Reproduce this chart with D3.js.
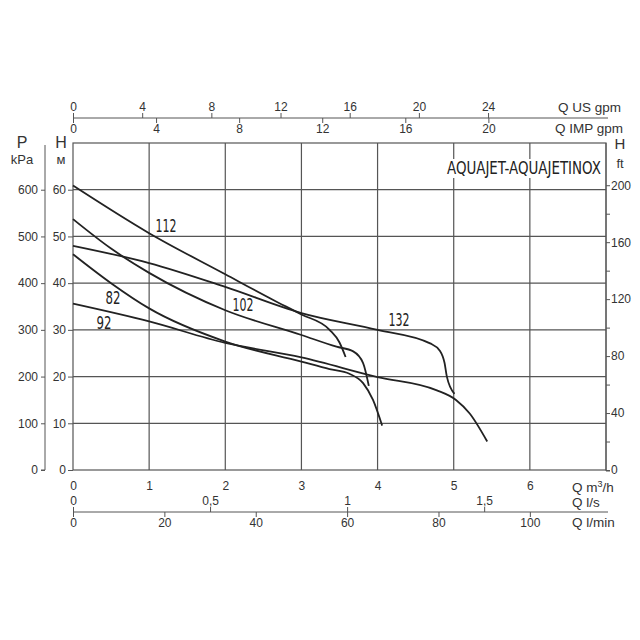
<!DOCTYPE html>
<html>
<head>
<meta charset="utf-8">
<script src="https://cdn.jsdelivr.net/npm/d3@7"></script>
<style>
  body { margin: 0; background: #fff; }
  svg text { font-family: "Liberation Sans", Arial, sans-serif; fill: #333; }
  .axis path, .axis line { stroke: #555; }
  .curvelab { font-family: "DejaVu Sans Condensed", "Liberation Sans Narrow", sans-serif !important; fill: #222 !important; }
</style>
</head>
<body>
<div id="chart"></div>
<script>
///////////////////////////////// Data /////////////////////////////////
// pump curves: [Q m3/h, H m]
var curve82  = [[0,46.2],[0.5,40.0],[1,34.6],[2,27.5],[3,23.2],[3.37,21.6],[3.63,20.6],[3.81,18.6],[3.94,15.0],[4.06,9.5]]
var curve92  = [[0,35.6],[1,31.8],[2,27.2],[3,24.1],[4,19.9],[4.77,17.1],[5.03,15.0],[5.21,12.1],[5.44,6.1]]
var curve102 = [[0,53.7],[0.5,47.4],[1,42.2],[2,34.2],[3,28.9],[3.46,26.4],[3.68,25.4],[3.81,22.9],[3.885,18.0]]
var curve112 = [[0,60.9],[1,50.7],[2,41.9],[2.63,36.4],[3,33.3],[3.37,30.0],[3.5,27.3],[3.58,24.2]]
var curve132 = [[0,48.0],[1,44.3],[2,39.2],[3,33.6],[4,30.0],[4.69,27.1],[4.82,25.5],[4.88,22.9],[4.91,20.0],[5.01,16.3]]

var curves = [
  {name: "82",  pts: curve82,  lab: [113, 298], w: 15},
  {name: "92",  pts: curve92,  lab: [104, 323], w: 15},
  {name: "102", pts: curve102, lab: [243, 305], w: 21},
  {name: "112", pts: curve112, lab: [166, 226], w: 21},
  {name: "132", pts: curve132, lab: [399, 320], w: 21}
]

var qTicks     = [0, 1, 2, 3, 4, 5, 6]
var hTicks     = [0, 10, 20, 30, 40, 50, 60]
var pTicks     = [0, 100, 200, 300, 400, 500, 600]
var ftTicks    = [0, 20, 40, 60, 80, 100, 120, 140, 160, 180, 200]
var usTicks    = [0, 4, 8, 12, 16, 20, 24]
var impTicks   = [0, 4, 8, 12, 16, 20]
var lsTicks    = [0, 0.5, 1, 1.5]
var lminTicks  = [0, 20, 40, 60, 80, 100]

///////////////////////////////// Setup /////////////////////////////////
var W = 640, H = 640
var x0 = 73, x1 = 606, yBot = 470, yTop = 143
var qMax = 7, hMax = 70

var svg = d3.select("#chart").append("svg").attr("width", W).attr("height", H)

var x = d3.scaleLinear().domain([0, qMax]).range([x0, x1])
var y = d3.scaleLinear().domain([0, hMax]).range([yBot, yTop])
var pScale = d3.scaleLinear().domain([0, hMax * 10]).range([yBot, yTop])
var ftScale = d3.scaleLinear().domain([0, hMax / 0.3048]).range([yBot, yTop])
var usScale = d3.scaleLinear().domain([0, qMax * 4.4029]).range([x0, x1])
var impScale = d3.scaleLinear().domain([0, qMax * 3.6662]).range([x0, x1])
var lsScale = d3.scaleLinear().domain([0, qMax / 3.6]).range([x0, x1])
var lminScale = d3.scaleLinear().domain([0, qMax * 1000 / 60]).range([x0, x1])

var fmtComma = function(d) { return String(d).replace(".", ",") }
var fmtInt = d3.format("d")

///////////////////////////////// Grid /////////////////////////////////
var grid = svg.append("g").attr("stroke", "#555").attr("stroke-width", 1.2)
grid.selectAll(".v").data(qTicks.slice(1)).enter().append("line")
  .attr("x1", d => x(d)).attr("x2", d => x(d)).attr("y1", yTop).attr("y2", yBot)
grid.selectAll(".h").data(hTicks.slice(1)).enter().append("line")
  .attr("x1", x0).attr("x2", x1).attr("y1", d => y(d)).attr("y2", d => y(d))
grid.append("rect").attr("x", x0).attr("y", yTop).attr("width", x1 - x0).attr("height", yBot - yTop)
  .attr("fill", "none")

///////////////////////////////// Axes /////////////////////////////////
function styleAxis(g) {
  g.attr("class", "axis").attr("font-size", 12).attr("font-family", null)
  g.selectAll("text").attr("fill", "#333")
}

// P kPa
svg.append("g").attr("transform", "translate(45,0)")
  .call(d3.axisLeft(pScale).tickValues(pTicks).tickSize(4).tickSizeOuter(0).tickPadding(3))
  .call(styleAxis)
  .call(g => g.select(".domain").attr("d", "M0," + (yTop + 2) + "V" + yBot + "H-4"))

// H m
svg.append("g").attr("transform", "translate(" + x0 + ",0)")
  .call(d3.axisLeft(y).tickValues(hTicks).tickSize(5).tickPadding(2))
  .call(styleAxis)
  .call(g => g.select(".domain").remove())

// H ft
svg.append("g").attr("transform", "translate(" + x1 + ",0)")
  .call(d3.axisRight(ftScale).tickValues(ftTicks).tickSize(4).tickSizeOuter(0).tickPadding(1)
    .tickFormat(d => d % 40 === 0 ? d : ""))
  .call(styleAxis)
  .call(g => g.select(".domain").attr("d", "M0," + yTop + "V" + (yBot + 1) + "H4"))

// Q m3/h
svg.append("g").attr("transform", "translate(0," + yBot + ")")
  .call(d3.axisBottom(x).tickValues(qTicks).tickSize(0).tickPadding(11).tickFormat(fmtInt))
  .call(styleAxis)
  .call(g => g.select(".domain").remove())

// top: US gpm / IMP gpm
var topY = 118
svg.append("g").attr("transform", "translate(0," + topY + ")")
  .call(d3.axisTop(usScale).tickValues(usTicks).tickSize(5).tickPadding(2).tickFormat(fmtInt))
  .call(styleAxis)
  .call(g => g.select(".domain").attr("d", "M" + x0 + ",0H" + (x1 + 2)))
svg.append("g").attr("transform", "translate(0," + topY + ")")
  .call(d3.axisBottom(impScale).tickValues(impTicks).tickSize(5).tickPadding(1).tickFormat(fmtInt))
  .call(styleAxis)
  .call(g => g.select(".domain").remove())

// bottom: l/s / l/min
var botY = 512
svg.append("g").attr("transform", "translate(0," + botY + ")")
  .call(d3.axisTop(lsScale).tickValues(lsTicks).tickSize(5).tickPadding(2).tickFormat(fmtComma))
  .call(styleAxis)
  .call(g => g.select(".domain").attr("d", "M" + x0 + ",0H" + (x1 + 2)))
svg.append("g").attr("transform", "translate(0," + botY + ")")
  .call(d3.axisBottom(lminScale).tickValues(lminTicks).tickSize(5).tickPadding(1).tickFormat(fmtInt))
  .call(styleAxis)
  .call(g => g.select(".domain").remove())

///////////////////////////////// Axis titles /////////////////////////////////
var titles = [
  ["P", 22, 148, "middle", 16], ["kPa", 22, 164, "middle", 13],
  ["H", 61, 148, "middle", 16], ["\u043C", 61, 164, "middle", 13],
  ["H", 620, 149, "middle", 15], ["ft", 620, 168, "middle", 13],
  ["Q US gpm", 621, 112, "end", 13.5], ["Q IMP gpm", 623, 133, "end", 13.5],
  ["Q l/s", 572, 507, "start", 13.5], ["Q l/min", 572, 527, "start", 13.5]
]
svg.selectAll(".ttl").data(titles).enter().append("text")
  .attr("x", d => d[1]).attr("y", d => d[2]).attr("text-anchor", d => d[3])
  .attr("font-size", d => d[4]).text(d => d[0])

var qm = svg.append("text").attr("x", 572).attr("y", 492).attr("font-size", 13.5)
qm.append("tspan").text("Q m")
qm.append("tspan").attr("font-size", 9).attr("dy", -5).text("3")
qm.append("tspan").attr("dy", 5).text("/h")

///////////////////////////////// Curves /////////////////////////////////
var line = d3.line()
  .x(d => x(d[0])).y(d => y(d[1]))
  .curve(d3.curveMonotoneX)

svg.append("g").selectAll("path").data(curves).enter().append("path")
  .attr("d", d => line(d.pts))
  .attr("fill", "none").attr("stroke", "#222").attr("stroke-width", 1.8)

// squeeze text horizontally to a given width (narrow lettering of the original)
function squeeze(sel, left, cy, w) {
  var natural = sel.node().getComputedTextLength()
  sel.attr("transform", "translate(" + left + "," + cy + ") scale(" + (w / natural) + ",1)")
}

svg.append("g").selectAll("text").data(curves).enter().append("text")
  .attr("class", "curvelab")
  .attr("dy", "0.36em").attr("font-size", 18)
  .text(d => d.name)
  .each(function(d) { squeeze(d3.select(this), d.lab[0] - d.w / 2, d.lab[1], d.w) })

// title with white box (grid lines break around it)
svg.append("rect").attr("x", 445).attr("y", 159).attr("width", 158).attr("height", 19).attr("fill", "#fff")
svg.append("text").attr("class", "curvelab")
  .attr("dy", "0.36em").attr("font-size", 17)
  .text("AQUAJET-AQUAJETINOX")
  .call(squeeze, 447, 168, 154)
</script>
</body>
</html>
